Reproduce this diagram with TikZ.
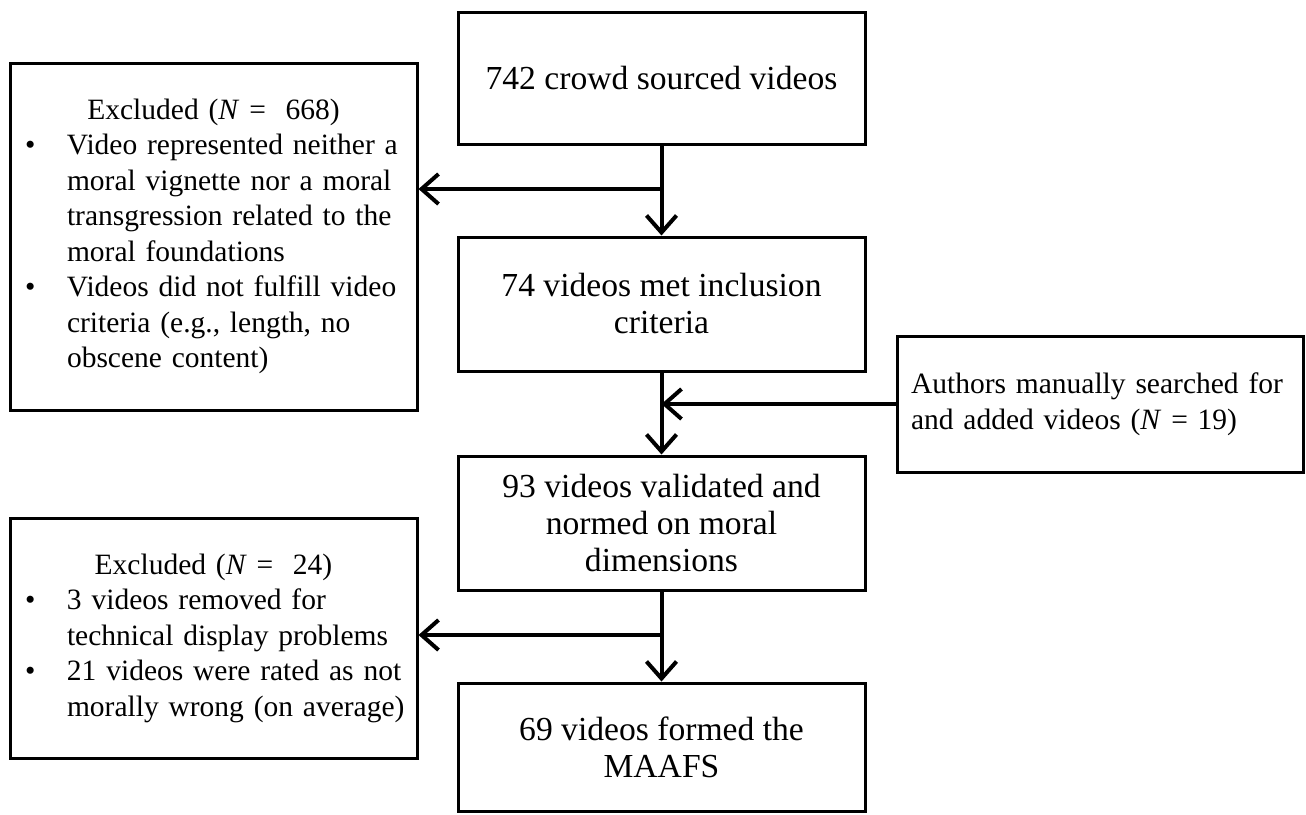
\documentclass[tikz,border=0pt]{standalone}
\usepackage{fontspec}
\setmainfont{Liberation Serif}
\usetikzlibrary{arrows.meta}
\begin{document}
\begin{tikzpicture}[x=1pt,y=-1pt,
  box/.style={draw, line width=3pt, inner sep=0pt, minimum width=407pt},
  mainbox/.style={box, align=center, font=\fontsize{33.6}{37}\selectfont},
  sidebox/.style={box, align=left, text width=407pt, font=\fontsize{29.5}{35.5}\selectfont},
  arr/.style={line width=4pt, -{Straight Barb[length=17pt,width=30pt]}}]
\useasboundingbox (0,0) rectangle (1306,814);
\node[mainbox, minimum height=132pt] (b1) at (661.5,78) {742 crowd sourced videos};
\node[mainbox, minimum height=134pt] (b2) at (661.5,304) {74 videos met inclusion\\criteria};
\node[mainbox, minimum height=134pt] (b3) at (661.5,523) {93 videos validated and\\normed on moral\\dimensions};
\node[mainbox, minimum height=128pt] (b4) at (661.5,747) {69 videos formed the\\MAAFS};
\node[sidebox, minimum height=347pt] (l1) at (213.5,236.5) {%
\makebox[407pt]{Excluded (\textit{N}~=~~668)}\\
\hspace*{15pt}\makebox[42pt][l]{•}Video represented neither a\\
\hspace*{57pt}moral vignette nor a moral\\
\hspace*{57pt}transgression related to the\\
\hspace*{57pt}moral foundations\\
\hspace*{15pt}\makebox[42pt][l]{•}Videos did not fulfill video\\
\hspace*{57pt}criteria (e.g., length, no\\
\hspace*{57pt}obscene content)};
\node[sidebox, minimum height=240pt] (l2) at (213.5,638) {%
\makebox[407pt]{Excluded (\textit{N}~=~~24)}\\
\hspace*{15pt}\makebox[42pt][l]{•}3 videos removed for\\
\hspace*{57pt}technical display problems\\
\hspace*{15pt}\makebox[42pt][l]{•}21 videos were rated as not\\
\hspace*{57pt}morally wrong (on average)};
\node[sidebox, text width=378pt, minimum width=406pt, minimum height=136pt] (r1) at (1100,404) {%
\makebox[378pt][l]{Authors manually searched for}\\
\makebox[378pt][l]{and added videos (\textit{N}~=~19)}};
\coordinate (y1) at (0,189);
\coordinate (y2) at (0,635);
\coordinate (j1) at (b1.south |- y1);
\coordinate (j2) at (b3.south |- y2);
\draw[arr] (b1.south) -- (b2.north);
\draw[arr] (j1) -- (j1 -| l1.east);
\draw[arr] (b2.south) -- (b3.north);
\draw[arr] (r1.west) -- (r1.west -| b2.south);
\draw[arr] (b3.south) -- (b4.north);
\draw[arr] (j2) -- (j2 -| l2.east);
\end{tikzpicture}
\end{document}
